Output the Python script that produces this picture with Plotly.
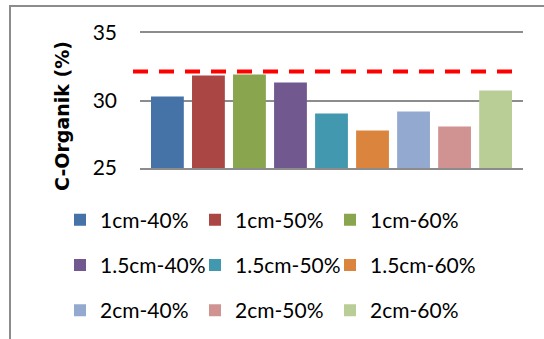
import plotly.graph_objects as go

# C-Organik content per treatment (diameter - concentration)
treatments = ["1cm-40%", "1cm-50%", "1cm-60%",
              "1.5cm-40%", "1.5cm-50%", "1.5cm-60%",
              "2cm-40%", "2cm-50%", "2cm-60%"]
c_organik = [30.30, 31.86, 31.93, 31.34, 29.03, 27.77, 29.18, 28.07, 30.74]
colors = ["#4572A7", "#AA4643", "#89A54E", "#71588F", "#4198AF",
          "#DB843D", "#93A9CF", "#D19392", "#B9CD96"]
reference_level = 32.15
y_ticks = [25, 30, 35]

W, H = 544, 339
M_L, M_R, M_T, M_B = 140, 21, 33, 171
plot_w = W - M_L - M_R
plot_h = H - M_T - M_B


def px_x(px):
    return (px - M_L) / plot_w


def px_y(py):
    return (H - M_B - py) / plot_h


# one legend per column: 40%, 50%, 60% concentrations
legend_names = ["legend", "legend2", "legend3"]
axis_grey = "#8c8c8c"

fig = go.Figure()
for i, (name, val, col) in enumerate(zip(treatments, c_organik, colors)):
    fig.add_trace(go.Bar(
        x=["C-Organik"], y=[val], name=name,
        marker=dict(color=col, line=dict(width=0)),
        legend=legend_names[i % 3], legendgroup=name,
        hoverinfo="name+y",
    ))

# dashed red reference level
fig.add_shape(type="line", xref="paper", yref="y",
              x0=px_x(133), x1=px_x(517), y0=reference_level, y1=reference_level,
              line=dict(color="#FF0000", width=4, dash="15px,11px"))

# outer chart frame
fig.add_shape(type="rect", xref="paper", yref="paper",
              x0=px_x(10), x1=px_x(600), y0=px_y(400), y1=px_y(6),
              line=dict(color=axis_grey, width=2), layer="below")

# vertical axis title
fig.add_annotation(text="<b>C-Organik (%)</b>", textangle=-90,
                   xref="paper", yref="paper", x=px_x(62), y=px_y(116),
                   xanchor="center", yanchor="middle", showarrow=False,
                   font=dict(family="DejaVu Sans", size=19, color="#000000"))

legend_font = dict(family="Lato, Open Sans, sans-serif", size=21, color="#000000")
col_starts = [60, 195, 330]
legend_cfg = {}
for key, xs in zip(legend_names, col_starts):
    legend_cfg[key] = dict(
        orientation="v", x=px_x(xs), xanchor="left", y=px_y(265), yanchor="middle",
        font=legend_font, tracegroupgap=15,
        bgcolor="rgba(0,0,0,0)", borderwidth=0, itemclick=False,
    )

fig.update_layout(
    width=W, height=H,
    margin=dict(l=M_L, r=M_R, t=M_T, b=M_B, pad=0, autoexpand=False),
    paper_bgcolor="white", plot_bgcolor="white",
    barmode="group", bargap=0.036, bargroupgap=0.2,
    showlegend=True,
    **legend_cfg,
    xaxis=dict(showticklabels=False, showgrid=False, zeroline=False,
               showline=True, mirror=True, linecolor=axis_grey, linewidth=1.5,
               ticks=""),
    yaxis=dict(range=[25, 35], tickvals=y_ticks, showgrid=True,
               gridcolor=axis_grey, gridwidth=1.5, zeroline=False,
               showline=False, ticks="", ticklabelstandoff=22,
               tickfont=dict(family="Lato, Open Sans, sans-serif", size=21, color="#000000")),
)

fig.write_html("out.html")
